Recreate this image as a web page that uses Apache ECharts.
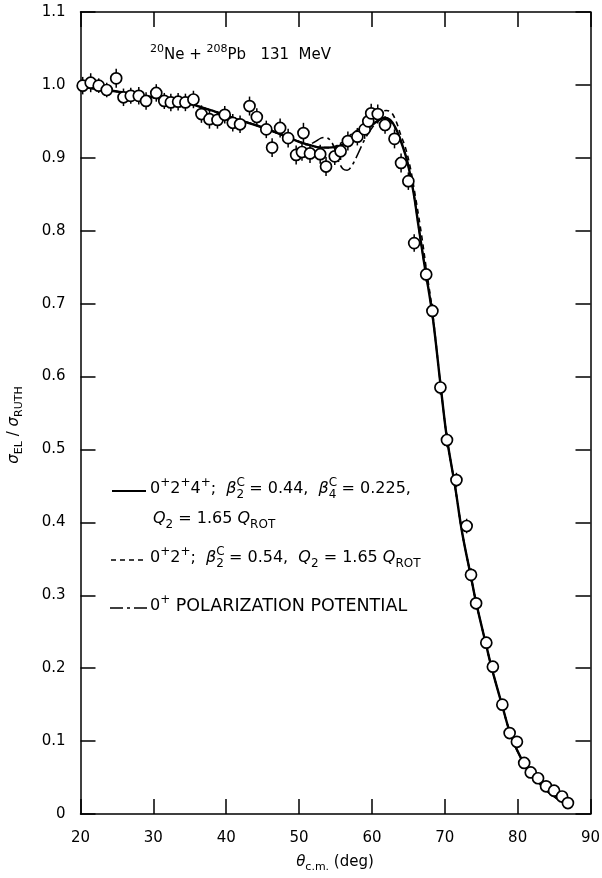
<!DOCTYPE html>
<html>
<head>
<meta charset="utf-8">
<script src="https://cdn.jsdelivr.net/npm/echarts@6/dist/echarts.min.js"></script>
<style>
  html, body { margin: 0; padding: 0; background: #fff; }
  #chart { width: 602px; height: 878px; }
</style>
</head>
<body>
<div id="chart"></div>
<script>
// measured cross sections, 20Ne + 208Pb at 131 MeV
const thetaData = [20.3, 21.4, 22.5, 23.6, 24.9, 25.9, 26.9, 28.0, 29.0, 30.4,
  31.5, 32.4, 33.4, 34.4, 35.5, 36.6, 37.7, 38.8, 39.8, 40.9,
  41.9, 43.2, 44.2, 45.5, 46.3, 47.4, 48.5, 49.6, 50.4, 50.6,
  51.5, 52.9, 53.7, 54.9, 55.7, 56.7, 58.0, 59.0, 59.5, 59.9,
  60.8, 61.8, 63.1, 64.0, 65.0, 65.8, 67.45, 68.3, 69.4, 70.3,
  71.6, 73.0, 73.6, 74.3, 75.7, 76.6, 77.9, 78.9, 79.9, 80.9,
  81.8, 82.8, 83.9, 85.0, 86.1, 86.9];
const sigmaData = [0.999, 1.003, 0.999, 0.993, 1.009, 0.983, 0.985, 0.985, 0.978, 0.989,
  0.978, 0.976, 0.977, 0.976, 0.980, 0.960, 0.953, 0.952, 0.959, 0.948,
  0.946, 0.971, 0.956, 0.939, 0.914, 0.941, 0.927, 0.904, 0.908, 0.934,
  0.906, 0.905, 0.888, 0.902, 0.909, 0.923, 0.929, 0.939, 0.950, 0.961,
  0.960, 0.945, 0.926, 0.893, 0.868, 0.783, 0.740, 0.690, 0.585, 0.513,
  0.458, 0.395, 0.328, 0.289, 0.235, 0.202, 0.150, 0.111, 0.099, 0.070,
  0.057, 0.049, 0.038, 0.032, 0.024, 0.015];
const errData = [0.012, 0.013, 0.010, 0.010, 0.013, 0.012, 0.011, 0.012, 0.012, 0.012,
  0.011, 0.012, 0.012, 0.012, 0.012, 0.012, 0.013, 0.012, 0.012, 0.012,
  0.012, 0.013, 0.012, 0.012, 0.013, 0.013, 0.013, 0.013, 0.012, 0.014,
  0.013, 0.013, 0.013, 0.012, 0.012, 0.013, 0.012, 0.013, 0.013, 0.013,
  0.013, 0.012, 0.013, 0.013, 0.012, 0.012, 0.010, 0.010, 0.010, 0.010,
  0.010, 0.010, 0.009, 0.008, 0.008, 0.008, 0.007, 0.006, 0.006, 0.005,
  0.005, 0.005, 0.005, 0.005, 0.004, 0.004];

// 0+2+4+ ; beta2 = 0.44, beta4 = 0.225
const solidCurve = [[20, 0.997], [22, 0.995], [25, 0.991], [28, 0.986], [30, 0.983],
  [33, 0.978], [35, 0.974], [38, 0.965], [40, 0.958], [42, 0.951], [44, 0.945],
  [46, 0.938], [48, 0.930], [50, 0.922], [52, 0.916], [53, 0.914], [54, 0.914],
  [55, 0.915], [56, 0.918], [57, 0.922], [58, 0.929], [59, 0.937], [60, 0.945],
  [61, 0.952], [61.8, 0.955], [62.5, 0.952], [63.2, 0.942], [63.9, 0.925],
  [64.8, 0.897], [65.7, 0.853], [66.4, 0.806], [67.1, 0.760], [68.3, 0.685],
  [69.4, 0.590], [70.3, 0.515], [71.4, 0.450], [72.4, 0.385], [73.6, 0.325],
  [74.3, 0.290], [75.6, 0.235], [76.5, 0.198], [77.9, 0.148], [78.9, 0.113],
  [79.9, 0.088], [80.9, 0.069], [82.2, 0.051], [84, 0.032], [85.9, 0.018], [86.8, 0.013]];

// 0+2+ ; beta2 = 0.54
const dashedCurve = [[20, 0.997], [25, 0.991], [30, 0.983], [35, 0.974], [40, 0.958],
  [44, 0.945], [48, 0.930], [52, 0.916], [54, 0.914], [55, 0.916], [56, 0.922],
  [57, 0.931], [58, 0.938], [59, 0.946], [60, 0.954], [61, 0.961], [62, 0.965],
  [62.7, 0.962], [63.4, 0.948], [63.9, 0.933], [64.6, 0.914], [65.3, 0.885],
  [66, 0.845], [66.8, 0.795], [67.5, 0.745], [68.3, 0.690], [69.4, 0.590],
  [70.3, 0.515], [71.4, 0.450], [72.4, 0.385], [73.6, 0.325], [74.3, 0.290],
  [75.6, 0.235], [76.5, 0.198], [77.9, 0.148], [78.9, 0.113], [79.9, 0.088],
  [80.9, 0.069], [82.2, 0.051], [84, 0.032], [85.9, 0.018], [86.8, 0.013]];

// 0+ polarization potential
const dashDotCurve = [[20, 0.997], [25, 0.991], [30, 0.983], [35, 0.974], [40, 0.958],
  [44, 0.945], [48, 0.930], [50, 0.922], [51, 0.918], [52, 0.921], [53, 0.927],
  [53.6, 0.928], [54.3, 0.924], [54.9, 0.912], [55.4, 0.896], [56, 0.885],
  [56.6, 0.883], [57.3, 0.890], [58.2, 0.908], [59, 0.925], [60, 0.941], [61, 0.951],
  [61.8, 0.955], [62.5, 0.951], [63.2, 0.940], [63.9, 0.925], [64.8, 0.897],
  [65.7, 0.853], [66.4, 0.806], [67.1, 0.760], [68.3, 0.685], [69.4, 0.590],
  [70.3, 0.515], [71.4, 0.450], [72.4, 0.385], [73.6, 0.325], [74.3, 0.290],
  [75.6, 0.235], [76.5, 0.198], [77.9, 0.148], [78.9, 0.113], [79.9, 0.088],
  [80.9, 0.069], [82.2, 0.051], [84, 0.032], [85.9, 0.018], [86.8, 0.013]];

const FONT = 'DejaVu Sans';
const chart = echarts.init(document.getElementById('chart'));

const points = thetaData.map((t, i) => [t, sigmaData[i], errData[i]]);

const richStyles = {
  n: { fontFamily: FONT, fontSize: 15, color: '#000', lineHeight: 22, verticalAlign: 'middle' },
  L: { fontFamily: FONT, fontSize: 16, color: '#000', lineHeight: 24, verticalAlign: 'middle' },
  C: { fontFamily: FONT, fontSize: 17.5, color: '#000', lineHeight: 24, verticalAlign: 'middle' },
  sup: { fontFamily: FONT, fontSize: 11, color: '#000', lineHeight: 11, verticalAlign: 'top' },
  sup0: { fontFamily: FONT, fontSize: 12, color: '#000', lineHeight: 12, verticalAlign: 'top', width: 0.01 },
  sub: { fontFamily: FONT, fontSize: 11, color: '#000', lineHeight: 11, verticalAlign: 'bottom' },
  lsup: { fontFamily: FONT, fontSize: 12, color: '#000', lineHeight: 12, verticalAlign: 'top' },
  lsub: { fontFamily: FONT, fontSize: 12, color: '#000', lineHeight: 12, verticalAlign: 'bottom' },
  i: { fontFamily: FONT, fontSize: 15, fontStyle: 'italic', color: '#000', lineHeight: 22, verticalAlign: 'middle' },
  li: { fontFamily: FONT, fontSize: 16, fontStyle: 'italic', color: '#000', lineHeight: 24, verticalAlign: 'middle' }
};

function frameAxis(extra) {
  return Object.assign({
    type: 'value',
    axisLine: { show: true, onZero: false, lineStyle: { color: '#000', width: 1.5 } },
    axisTick: { show: true, inside: true, length: 15, lineStyle: { color: '#000', width: 1.5 } },
    splitLine: { show: false }
  }, extra);
}

function legendText(x, y, text) {
  return { type: 'text', left: x, top: y, style: { text: text, rich: richStyles } };
}

function legendLine(x1, x2, y, dash) {
  return {
    type: 'line',
    shape: { x1: x1, y1: y, x2: x2, y2: y },
    style: { stroke: '#000', lineWidth: dash ? 1.6 : 2.2, lineDash: dash || null }
  };
}

chart.setOption({
  animation: false,
  backgroundColor: '#fff',
  grid: { left: 80.5, right: 11.5, top: 12, bottom: 64, containLabel: false, outerBoundsMode: 'none' },
  xAxis: [
    frameAxis({
      min: 20, max: 90, interval: 10, position: 'bottom',
      axisLabel: { color: '#000', fontFamily: FONT, fontSize: 15, margin: 17 }
    }),
    frameAxis({
      min: 20, max: 90, interval: 10, position: 'top',
      axisLabel: { show: false }
    })
  ],
  yAxis: [
    frameAxis({
      min: 0, max: 1.1, interval: 0.1, position: 'left',
      axisLabel: {
        color: '#000', fontFamily: FONT, fontSize: 15, margin: 15,
        formatter: (v) => (v === 0 ? '0' : v.toFixed(1))
      }
    }),
    frameAxis({
      min: 0, max: 1.1, interval: 0.1, position: 'right',
      axisLabel: { show: false }
    })
  ],
  graphic: [
    legendText(150, 44, '{sup|20}{n|Ne + }{sup|208}{n|Pb   131  MeV}'),
    legendLine(112, 146, 491),
    legendText(150, 477, '{L|0}{lsup|+}{L|2}{lsup|+}{L|4}{lsup|+}{L|;  }{li|β}{sup0|C}{lsub|2}{L| = 0.44,  }{li|β}{sup0|C}{lsub|4}{L| = 0.225,}'),
    legendText(153, 511, '{li|Q}{lsub|2}{L| = 1.65 }{li|Q}{lsub|ROT}'),
    legendLine(111, 145, 560, [5, 4]),
    legendText(150, 546, '{L|0}{lsup|+}{L|2}{lsup|+}{L|;  }{li|β}{sup0|C}{lsub|2}{L| = 0.54,  }{li|Q}{lsub|2}{L| = 1.65 }{li|Q}{lsub|ROT}'),
    legendLine(110, 147, 608, [13, 4, 3, 4]),
    legendText(150, 594, '{L|0}{lsup|+}{C| POLARIZATION POTENTIAL}'),
    {
      type: 'text', x: 14, y: 425, rotation: Math.PI / 2,
      style: { text: '{i|σ}{sub|EL}{n| / }{i|σ}{sub|RUTH}', rich: richStyles, align: 'center', verticalAlign: 'middle' }
    },
    {
      type: 'text', x: 335, y: 862,
      style: { text: '{i|θ}{sub|c.m.}{n| (deg)}', rich: richStyles, align: 'center', verticalAlign: 'middle' }
    }
  ],
  series: [
    {
      name: 'dash-dot', type: 'line', data: dashDotCurve, smooth: 0.35, showSymbol: false, z: 2,
      lineStyle: { color: '#000', width: 1.6, type: [13, 4, 3, 4] }
    },
    {
      name: 'dashed', type: 'line', data: dashedCurve, smooth: 0.35, showSymbol: false, z: 2,
      lineStyle: { color: '#000', width: 1.6, type: [5, 4] }
    },
    {
      name: 'solid', type: 'line', data: solidCurve, smooth: 0.35, showSymbol: false, z: 3,
      lineStyle: { color: '#000', width: 2.4 }
    },
    {
      name: 'errors', type: 'custom', data: points, z: 4,
      renderItem: (params, api) => {
        const x = api.value(0);
        const y = api.value(1);
        const e = api.value(2);
        const hi = api.coord([x, y + e]);
        const lo = api.coord([x, y - e]);
        return {
          type: 'line',
          shape: { x1: hi[0], y1: hi[1], x2: lo[0], y2: lo[1] },
          style: { stroke: '#000', lineWidth: 1.5 }
        };
      }
    },
    {
      name: 'data', type: 'scatter', data: points.map((p) => [p[0], p[1]]), z: 5,
      symbol: 'circle', symbolSize: 11,
      itemStyle: { color: '#fff', borderColor: '#000', borderWidth: 1.7, opacity: 1 }
    }
  ]
});

window.addEventListener('resize', () => {
  chart.resize();
});
</script>
</body>
</html>
